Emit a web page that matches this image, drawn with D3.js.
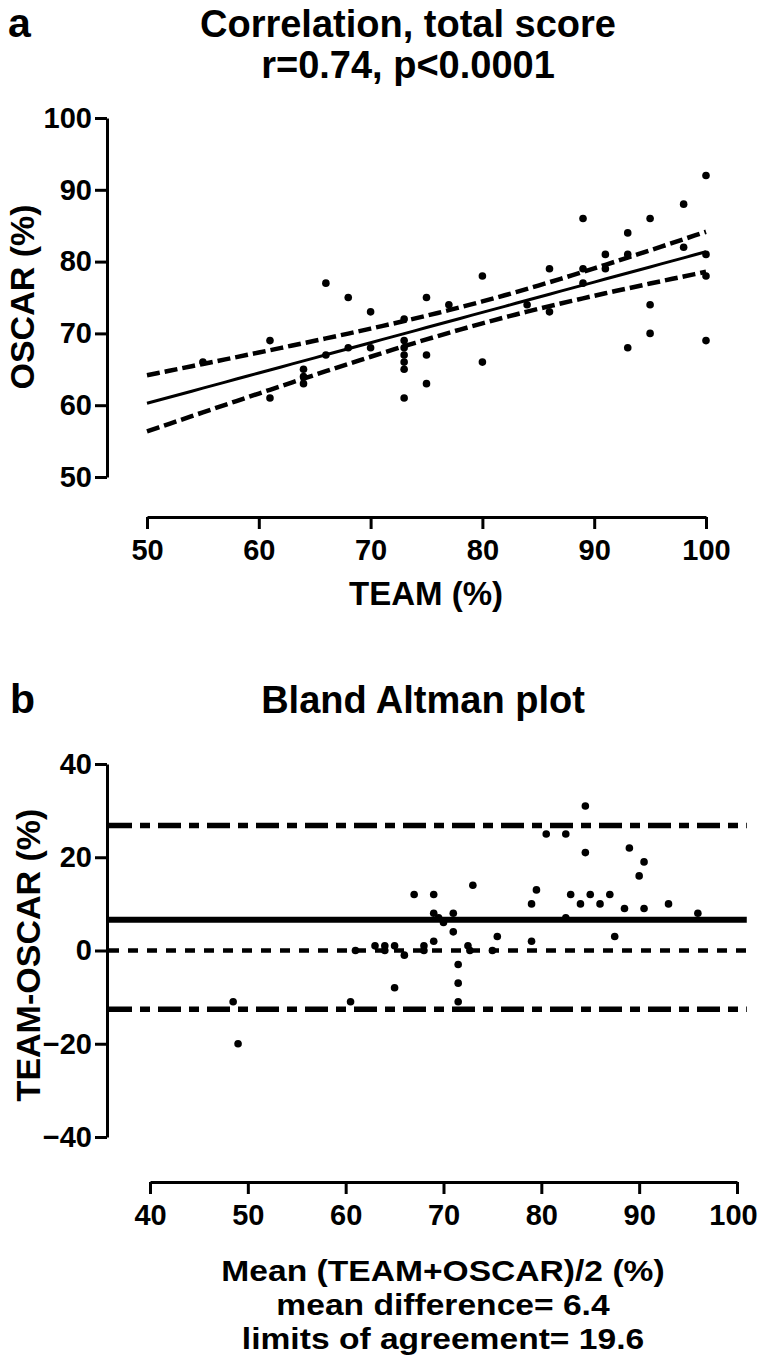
<!DOCTYPE html>
<html>
<head>
<meta charset="utf-8">
<script src="https://cdn.jsdelivr.net/npm/d3@7"></script>
<style>
  body { margin: 0; background: #fff; }
  text { font-family: "Liberation Sans", Arial, sans-serif; font-weight: bold; fill: #000; }
</style>
</head>
<body>
<svg id="chart" width="760" height="1359"></svg>
<script>
// panel a: TEAM vs OSCAR (%)
const teamScores  = [55, 61, 61, 64, 64, 64, 66, 66, 68, 68, 70, 70, 73, 73, 73, 73, 73, 73, 73, 75, 75, 75, 77, 80, 80, 84, 86, 86, 89, 89, 89, 91, 91, 93, 93, 93, 95, 95, 95, 98, 98, 100, 100, 100, 100]
const oscarScores = [66, 69, 61, 65, 64, 63, 77, 67, 75, 68, 73, 68, 72, 69, 68, 67, 66, 65, 61, 75, 67, 63, 74, 78, 66, 74, 79, 73, 86, 79, 77, 81, 79, 84, 81, 68, 86, 74, 70, 88, 82, 92, 81, 78, 69]
const corrTicksX = [50, 60, 70, 80, 90, 100]
const corrTicksY = [50, 60, 70, 80, 90, 100]

// panel b: Bland Altman, mean of both vs difference
const baMean = [48.5, 49, 60.5, 61, 63, 64, 64, 65, 65, 66, 67, 68, 68, 69, 69, 69, 69.5, 70, 71, 71, 71.5, 71.5, 71.5, 72.5, 72.7, 73, 75, 75.5, 79, 79, 79.5, 80.5, 82.5, 82.5, 83, 84, 84.5, 84.5, 85, 86, 87, 87.5, 88.5, 89, 90, 90.5, 90.5, 93, 96]
const baDiff = [-11, -20, -11, 0, 1, 1, 0, 1, -8, -1, 12, 0, 1, 12, 8, 2, 7, 6, 8, 4, -3, -7, -11, 1, 0, 14, 0, 3, 10, 2, 13, 25, 25, 7, 12, 10, 31, 21, 12, 10, 12, 3, 9, 22, 16, 19, 9, 10, 8]
const baBias = 6.6
const baLimits = [26.8, -12.6]
const baTicksX = [40, 50, 60, 70, 80, 90, 100]
const baTicksY = [-40, -20, 0, 20, 40]

const svg = d3.select('#chart')

function styleAxis(g, size) {
    g.select('.domain').attr('stroke', '#000').attr('stroke-width', 3)
    g.selectAll('.tick line').attr('stroke', '#000').attr('stroke-width', 3)
    g.selectAll('.tick text').style('font-size', size + 'px')
}

// linear fit + 95% band of the mean, from the panel a points
function fitLine(xs, ys) {
    const n = xs.length
    const mx = d3.mean(xs), my = d3.mean(ys)
    let sxx = 0, sxy = 0
    xs.forEach((x, i) => { sxx += (x - mx) ** 2; sxy += (x - mx) * (ys[i] - my) })
    const b = sxy / sxx, a = my - b * mx
    const sse = d3.sum(xs, (x, i) => (ys[i] - a - b * x) ** 2)
    const s = Math.sqrt(sse / (n - 2))
    const t = 2.017
    const band = x => t * s * Math.sqrt(1 / n + (x - mx) ** 2 / sxx)
    return { a, b, band }
}

// ---------- panel a ----------
const x1 = d3.scaleLinear().domain([50, 100]).range([147, 706])
const y1 = d3.scaleLinear().domain([50, 100]).range([477, 118])

svg.append('text').attr('x', 8).attr('y', 37).style('font-size', '41px').text('a')
svg.append('text').attr('x', 408).attr('y', 37).attr('text-anchor', 'middle')
    .style('font-size', '38px').text('Correlation, total score')
svg.append('text').attr('x', 408).attr('y', 78).attr('text-anchor', 'middle')
    .style('font-size', '38px').text('r=0.74, p<0.0001')

svg.append('g').attr('transform', 'translate(107,0)')
    .call(d3.axisLeft(y1).tickValues(corrTicksY).tickSize(12).tickSizeOuter(0).tickPadding(3))
    .call(g => styleAxis(g, 29))
svg.append('g').attr('transform', 'translate(0,517)')
    .call(d3.axisBottom(x1).tickValues(corrTicksX).tickSize(12).tickSizeOuter(0).tickPadding(10))
    .call(g => styleAxis(g, 29))

svg.append('text').attr('transform', 'translate(34,297) rotate(-90)').attr('text-anchor', 'middle')
    .style('font-size', '34px').text('OSCAR (%)')
svg.append('text').attr('x', 426).attr('y', 605).attr('text-anchor', 'middle')
    .style('font-size', '33px').text('TEAM (%)')

const fit = fitLine(teamScores, oscarScores)
const xsFit = d3.range(50, 100.01, 1)
const line1 = d3.line().x(d => x1(d[0])).y(d => y1(d[1]))
svg.append('path')
    .attr('d', line1(xsFit.map(x => [x, fit.a + fit.b * x])))
    .attr('fill', 'none').attr('stroke', '#000').attr('stroke-width', 3)
;[1, -1].forEach(sign => {
    svg.append('path')
        .attr('d', line1(xsFit.map(x => [x, fit.a + fit.b * x + sign * fit.band(x) * 0.92])))
        .attr('fill', 'none').attr('stroke', '#000').attr('stroke-width', 4.5)
        .attr('stroke-dasharray', '13 5')
})

svg.append('g').selectAll('circle')
    .data(teamScores.map((t, i) => [t, oscarScores[i]]))
    .join('circle')
    .attr('cx', d => x1(d[0])).attr('cy', d => y1(d[1])).attr('r', 3.8)
    .attr('fill', '#000')

// ---------- panel b ----------
const x2 = d3.scaleLinear().domain([40, 100]).range([150, 737])
const y2 = d3.scaleLinear().domain([-40, 40]).range([1137, 764])

svg.append('text').attr('x', 10).attr('y', 713).style('font-size', '41px').text('b')
svg.append('text').attr('x', 423).attr('y', 713).attr('text-anchor', 'middle')
    .style('font-size', '38px').text('Bland Altman plot')

svg.append('g').attr('transform', 'translate(107,0)')
    .call(d3.axisLeft(y2).tickValues(baTicksY).tickSize(12).tickSizeOuter(0).tickPadding(3))
    .call(g => styleAxis(g, 29))
svg.append('g').attr('transform', 'translate(0,1182)')
    .call(d3.axisBottom(x2).tickValues(baTicksX).tickSize(12).tickSizeOuter(0).tickPadding(10))
    .call(g => styleAxis(g, 29))
    .call(g => g.selectAll('.tick:last-of-type text').attr('dx', -4))

svg.append('text').attr('transform', 'translate(40,955) rotate(-90)').attr('text-anchor', 'middle')
    .style('font-size', '34px').text('TEAM-OSCAR (%)')

// footer lines, a bit wide and flat like the original
const footer = ['Mean (TEAM+OSCAR)/2 (%)', 'mean difference= 6.4', 'limits of agreement= 19.6']
footer.forEach((s, i) => {
    svg.append('text')
        .attr('transform', `translate(443,${1281 + i * 34}) scale(1.12,1)`)
        .attr('text-anchor', 'middle')
        .style('font-size', '30px').text(s)
})

const hLine = (v, width, dash) => svg.append('line')
    .attr('x1', 109).attr('x2', x2(101))
    .attr('y1', y2(v)).attr('y2', y2(v))
    .attr('stroke', '#000').attr('stroke-width', width)
    .attr('stroke-dasharray', dash)

hLine(0, 4.5, '10 9')
hLine(baBias, 6, null)
baLimits.forEach(v => hLine(v, 5.5, '23 8 10 8'))

svg.append('g').selectAll('circle')
    .data(baMean.map((m, i) => [m, baDiff[i]]))
    .join('circle')
    .attr('cx', d => x2(d[0])).attr('cy', d => y2(d[1])).attr('r', 3.8)
    .attr('fill', '#000')
</script>
</body>
</html>
